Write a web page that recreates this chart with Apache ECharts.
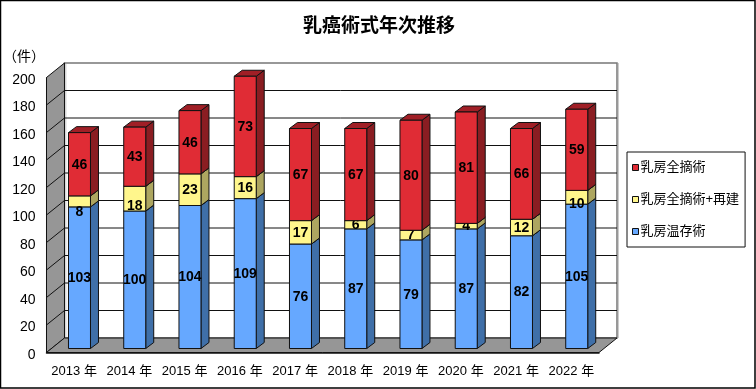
<!DOCTYPE html>
<html><head><meta charset="utf-8">
<style>html,body{margin:0;padding:0;background:#fff}#c{width:756px;height:389px}</style>
<script src="https://cdn.jsdelivr.net/npm/echarts@6/dist/echarts.min.js"></script>
</head><body><div id="c"></div>
<script>
const categories = ['2013 年','2014 年','2015 年','2016 年','2017 年','2018 年','2019 年','2020 年','2021 年','2022 年'];
const conserving = [103,100,104,109,76,87,79,87,82,105];
const reconstruct = [8,18,23,16,17,6,7,4,12,10];
const mastectomy = [46,43,46,73,67,67,80,81,66,59];
const yTicks = [0,20,40,60,80,100,120,140,160,180,200];
const titleText = '乳癌術式年次推移';
const unitText = '（件）';
const names = ['乳房温存術','乳房全摘術+再建','乳房全摘術'];

const CJK = '"Liberation Sans","Noto Sans CJK JP",sans-serif';
const WALL = [18,-14.5];   // depth of chart box
const BAR_OFF = [5.35,-4]; // bar position inside the floor
const BAR_D = [8,-6];      // bar depth
const HALF = 11;
const labelShift = {'1:0':10,'1:1':7,'1:9':6};

const colors = [
  {f:'#66A8FF',s:'#3F6FA8',t:'#4F86CC'},
  {f:'#FFF68C',s:'#ADA660',t:'#CFC870'},
  {f:'#E02C35',s:'#8A1D22',t:'#A01F26'}
];

function poly(pts, fill, stroke, lw, z2){
  return {type:'polygon',z2:z2||0,shape:{points:pts},style:{fill:fill,stroke:stroke,lineWidth:lw===undefined?1:lw,lineJoin:'miter'}};
}
function line(pts, stroke, lw, z2){
  return {type:'polyline',z2:z2||0,shape:{points:pts},style:{fill:null,stroke:stroke,lineWidth:lw}};
}

function renderFrame(params, api){
  const g = params.coordSys;
  const L = g.x, R = g.x+g.width;
  const y0 = api.coord([0,0])[1], yTop = api.coord([0,200])[1];
  const [dx,dy] = WALL;
  const kids = [];
  if(params.dataIndex===0){
    kids.push(poly([[L+dx,yTop+dy],[R+dx,yTop+dy],[R+dx,y0+dy],[L+dx,y0+dy]],'#fff','#777',1.5));
    kids.push(poly([[L,yTop],[L+dx,yTop+dy],[L+dx,y0+dy],[L,y0]],'#969696','#111',1));
    kids.push(poly([[L,y0],[L+dx,y0+dy],[R+dx,y0+dy],[R,y0]],'#969696','#111',1));
    kids.push(line([[R+dx+1.5,yTop+dy],[R+dx+1.5,y0+dy]],'#ccc',1));
    kids.push(line([[L+dx+1.5,yTop+dy+1],[L+dx+1.5,y0+dy-1]],'#ccc',0.8));
  }
  const v = api.value(1);
  if(v>0 && v<200){
    const y = api.coord([0,v])[1];
    kids.push(line([[L,y],[L+dx,y+dy],[R+dx,y+dy]],'#111',1));
  }
  return {type:'group',children:kids};
}

function renderBar(sIdx){
  return function(params, api){
    const i = api.value(0), a = api.value(1), b = api.value(2);
    const p0 = api.coord([i,a]), p1 = api.coord([i,b]);
    const x0 = p0[0]+BAR_OFF[0]-HALF, x1 = p0[0]+BAR_OFF[0]+HALF;
    const yb = p0[1]+BAR_OFF[1], yt = p1[1]+BAR_OFF[1];
    const [dx,dy] = BAR_D;
    const c = colors[sIdx];
    const shift = labelShift[sIdx+':'+i]||0;
    return {type:'group',children:[
      poly([[x1,yb],[x1+dx,yb+dy],[x1+dx,yt+dy],[x1,yt]],c.s,'#111',1),
      poly([[x0,yt],[x0+dx,yt+dy],[x1+dx,yt+dy],[x1,yt]],c.t,'#111',1),
      poly([[x0,yt],[x1,yt],[x1,yb],[x0,yb]],c.f,'#111',1),
      {type:'text',z2:10,style:{x:(x0+x1)/2,y:(yt+yb)/2+shift+0.5,text:String(b-a),align:'center',verticalAlign:'middle',
        fill:'#000',font:'bold 14px "Liberation Sans",sans-serif'}}
    ]};
  };
}

function stackData(idx){
  const all = [conserving,reconstruct,mastectomy];
  return categories.map((_,i)=>{
    let a=0; for(let k=0;k<idx;k++) a+=all[k][i];
    return [i,a,a+all[idx][i]];
  });
}

const chart = echarts.init(document.getElementById('c'),null,{renderer:'canvas'});
chart.setOption({
  animation:false,
  backgroundColor:'#fff',
  title:{text:titleText,left:374,top:10,textAlign:'center',
    textStyle:{fontFamily:'"Noto Sans CJK JP",sans-serif',fontSize:19,fontWeight:'bold',color:'#000'}},
  grid:{left:46,top:77.5,width:553,height:275},
  xAxis:{type:'category',data:categories,
    axisLine:{show:true,lineStyle:{color:'#111',width:1.5}},axisTick:{show:false},
    axisLabel:{interval:0,margin:12,fontFamily:CJK,fontSize:13,color:'#000'}},
  yAxis:{type:'value',min:0,max:200,interval:20,
    name:unitText,nameLocation:'end',nameGap:13,
    nameTextStyle:{fontFamily:CJK,fontSize:14,color:'#000',align:'center',padding:[0,0,0,-45]},
    axisLine:{show:true,lineStyle:{color:'#111',width:1}},axisTick:{show:false},splitLine:{show:false},
    axisLabel:{margin:11,formatter:'{n|{value}}',rich:{n:{padding:[5,0,0,0],fontFamily:'"Liberation Sans",sans-serif',fontSize:14,color:'#000'}}},
    data:yTicks},
  legend:{orient:'vertical',left:627,top:152,data:[names[2],names[1],names[0]],
    backgroundColor:'#fff',borderColor:'#111',borderWidth:1,padding:[9,6,9,5],itemGap:19,
    itemWidth:6,itemHeight:6,icon:'rect',selectedMode:false,
    itemStyle:{borderColor:'#111',borderWidth:1},
    textStyle:{fontFamily:CJK,fontSize:13,color:'#000',padding:[0,0,0,-3]}},
  graphic:[{type:'rect',z:100,silent:true,shape:{x:0.5,y:0.5,width:754.5,height:387.5},style:{fill:null,stroke:'#000',lineWidth:1.5}}],
  series:[
    {type:'custom',name:'frame',z:1,clip:false,silent:true,encode:{x:0,y:1},
      data:yTicks.map(v=>[0,v]),renderItem:renderFrame},
    ...[0,1,2].map(k=>({type:'custom',name:names[k],z:2+k,clip:false,silent:true,
      encode:{x:0,y:[1,2]},itemStyle:{color:colors[k].f},
      data:stackData(k),renderItem:renderBar(k)}))
  ]
});
</script></body></html>
